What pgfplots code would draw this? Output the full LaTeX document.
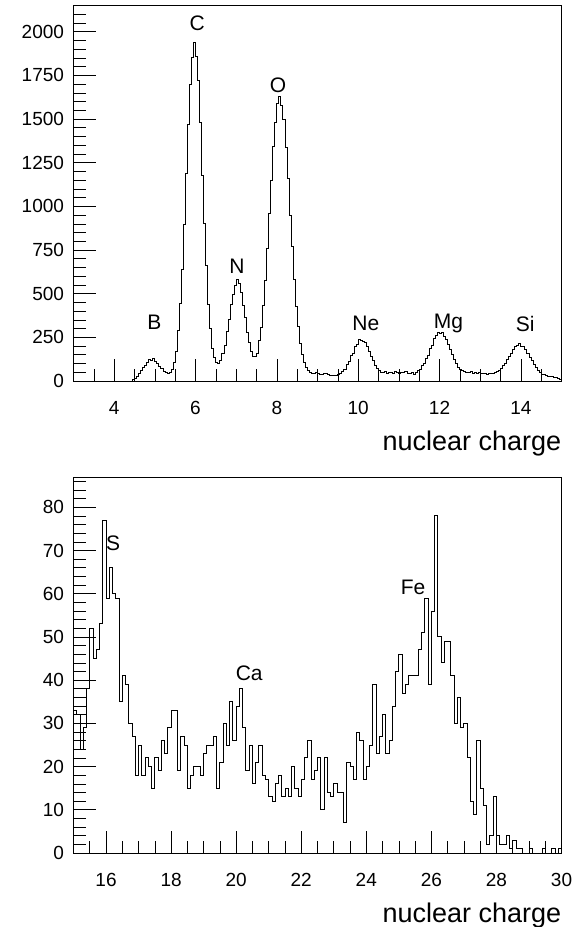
\documentclass[border=0pt]{standalone}
\usepackage{pgfplots}
\pgfplotsset{compat=1.18}
\usepackage{fontspec}
\setmainfont{Liberation Sans}

\pgfplotsset{rootstyle/.style={
  scale only axis,
  axis line style={line width=0.8pt},
  tick align=inside,
  xtick pos=left, ytick pos=left,
  major tick length=22pt, minor tick length=12pt,
  every tick/.style={black, line width=0.6pt},
  tick label style={font=\fontsize{19}{19}\selectfont},
  /pgf/number format/assume math mode=true,
  /pgf/number format/1000 sep={},
  scaled y ticks=false,
  xticklabel style={yshift=-17pt},
  yticklabel style={xshift=-6pt},
  xlabel={nuclear charge},
  xlabel style={font=\fontsize{27}{27}\selectfont, at={(rel axis cs:1,0)}, anchor=north east, inner sep=0pt, yshift=-50pt},
}}

\begin{document}
\begin{tikzpicture}[x=1pt,y=1pt]
\path[use as bounding box] (0,0) rectangle (574,927);
\begin{axis}[rootstyle,
  at={(73.5pt,546pt)}, anchor=south west,
  width=488pt, height=375.5pt,
  xmin=3, xmax=15, ymin=0, ymax=2150,
  xtick={4,6,...,14}, minor xtick={3,3.5,...,15},
  ytick={0,250,...,2000}, minor ytick={0,50,...,2150},
]
\addplot[const plot mark left, black, line width=0.9pt, mark=none] coordinates {
(3.00,0)
(4.45,6)(4.50,17)(4.55,28)(4.60,45)(4.65,58)(4.70,79)(4.75,90)(4.80,104)(4.85,122)(4.90,116)(4.95,128)
(5.00,112)(5.05,103)(5.10,86)(5.15,70)(5.20,57)(5.25,50)(5.30,42)(5.35,48)(5.40,66)(5.45,108)
(5.50,172)(5.55,290)(5.60,445)(5.65,640)(5.70,895)(5.75,1190)(5.80,1470)(5.85,1700)(5.90,1850)(5.95,1940)
(6.00,1860)(6.05,1720)(6.10,1480)(6.15,1175)(6.20,900)(6.25,660)(6.30,440)(6.35,300)(6.40,188)(6.45,135)
(6.50,104)(6.55,100)(6.60,115)(6.65,160)(6.70,205)(6.75,285)(6.80,350)(6.85,440)(6.90,498)(6.95,545)
(7.00,580)(7.05,560)(7.10,505)(7.15,430)(7.20,365)(7.25,280)(7.30,220)(7.35,172)(7.40,142)(7.45,138)
(7.50,160)(7.55,230)(7.60,305)(7.65,435)(7.70,575)(7.75,760)(7.80,960)(7.85,1150)(7.90,1345)(7.95,1480)
(8.00,1590)(8.05,1630)(8.10,1580)(8.15,1495)(8.20,1340)(8.25,1160)(8.30,950)(8.35,770)(8.40,580)(8.45,425)
(8.50,312)(8.55,215)(8.60,150)(8.65,108)(8.70,78)(8.75,60)(8.80,48)(8.85,44)(8.90,45)(8.95,48)
(9.00,42)(9.05,38)(9.10,40)(9.15,44)(9.20,41)(9.25,36)(9.30,34)(9.35,31)(9.40,33)(9.45,29)
(9.50,36)(9.55,42)(9.60,52)(9.65,66)(9.70,92)(9.75,110)(9.80,145)(9.85,160)(9.90,195)(9.95,210)
(10.00,238)(10.05,232)(10.10,225)(10.15,218)(10.20,195)(10.25,172)(10.30,140)(10.35,118)(10.40,90)(10.45,72)
(10.50,58)(10.55,50)(10.60,48)(10.65,52)(10.70,45)(10.75,48)(10.80,50)(10.85,46)(10.90,52)(10.95,49)
(11.00,45)(11.05,50)(11.10,47)(11.15,52)(11.20,46)(11.25,44)(11.30,48)(11.35,40)(11.40,50)(11.45,58)
(11.50,68)(11.55,88)(11.60,100)(11.65,130)(11.70,148)(11.75,185)(11.80,205)(11.85,242)(11.90,258)(11.95,278)
(12.00,272)(12.05,276)(12.10,255)(12.15,240)(12.20,212)(12.25,180)(12.30,150)(12.35,122)(12.40,100)(12.45,80)
(12.50,68)(12.55,60)(12.60,56)(12.65,50)(12.70,48)(12.75,52)(12.80,46)(12.85,49)(12.90,44)(12.95,47)
(13.00,42)(13.05,45)(13.10,43)(13.15,40)(13.20,44)(13.25,46)(13.30,45)(13.35,50)(13.40,56)(13.45,62)
(13.50,72)(13.55,88)(13.60,100)(13.65,125)(13.70,140)(13.75,160)(13.80,180)(13.85,195)(13.90,205)(13.95,215)
(14.00,200)(14.05,195)(14.10,178)(14.15,160)(14.20,135)(14.25,115)(14.30,95)(14.35,78)(14.40,62)(14.45,50)
(14.50,40)(14.55,36)(14.60,32)(14.65,28)(14.70,26)(14.75,24)(14.80,22)(14.85,20)(14.90,16)(14.95,10)
(15.00,10)
};
\node[font=\fontsize{21}{21}\selectfont] at (axis cs:4.99,335) {B};
\node[font=\fontsize{21}{21}\selectfont] at (axis cs:6.04,2047) {C};
\node[font=\fontsize{21}{21}\selectfont] at (axis cs:7.02,654) {N};
\node[font=\fontsize{21}{21}\selectfont] at (axis cs:8.03,1691) {O};
\node[font=\fontsize{21}{21}\selectfont] at (axis cs:10.19,329) {Ne};
\node[font=\fontsize{21}{21}\selectfont] at (axis cs:12.22,329) {Mg};
\node[font=\fontsize{21}{21}\selectfont] at (axis cs:14.11,329) {Si};
\end{axis}

\begin{axis}[rootstyle,
  at={(73.5pt,74pt)}, anchor=south west,
  width=488pt, height=376pt,
  xmin=15, xmax=30, ymin=0, ymax=87,
  xtick={16,18,...,30}, minor xtick={15,15.5,...,30},
  ytick={0,10,...,80}, minor ytick={0,2,...,86},
]
\addplot[const plot mark left, black, line width=0.9pt, mark=none] coordinates {
(15.0,33)(15.1,32)(15.2,24)(15.3,29)(15.4,38)(15.5,52)(15.6,45)(15.7,47)(15.8,53)(15.9,77)
(16.0,59)(16.1,66)(16.2,60)(16.3,59)(16.4,35)(16.5,41)(16.6,39)(16.7,30)(16.8,27)(16.9,18)
(17.0,25)(17.1,18)(17.2,22)(17.3,20)(17.4,15)(17.5,22)(17.6,19)(17.7,26)(17.8,23)(17.9,29)
(18.0,33)(18.1,33)(18.2,19)(18.3,27)(18.4,25)(18.5,15)(18.6,18)(18.7,20)(18.8,20)(18.9,18)
(19.0,23)(19.1,25)(19.2,25)(19.3,27)(19.4,15)(19.5,21)(19.6,30)(19.7,25)(19.8,35)(19.9,26)
(20.0,34)(20.1,38)(20.2,29)(20.3,19)(20.4,25)(20.5,16)(20.6,21)(20.7,25)(20.8,18)(20.9,17)
(21.0,13)(21.1,12)(21.2,16)(21.3,18)(21.4,13)(21.5,15)(21.6,13)(21.7,20)(21.8,15)(21.9,13)
(22.0,17)(22.1,22)(22.2,26)(22.3,17)(22.4,19)(22.5,22)(22.6,10)(22.7,22)(22.8,14)(22.9,13)
(23.0,16)(23.1,14)(23.2,14)(23.3,7)(23.4,21)(23.5,20)(23.6,17)(23.7,28)(23.8,26)(23.9,17)
(24.0,20)(24.1,25)(24.2,39)(24.3,23)(24.4,27)(24.5,32)(24.6,23)(24.7,26)(24.8,34)(24.9,42)
(25.0,46)(25.1,37)(25.2,39)(25.3,41)(25.4,41)(25.5,41)(25.6,47)(25.7,51)(25.8,59)(25.9,39)
(26.0,56)(26.1,78)(26.2,50)(26.3,44)(26.4,49)(26.5,49)(26.6,41)(26.7,30)(26.8,36)(26.9,29)
(27.0,30)(27.1,22)(27.2,12)(27.3,9)(27.4,26)(27.5,15)(27.6,11)(27.7,2)(27.8,4)(27.9,13)
(28.0,4)(28.1,2)(28.2,2)(28.3,4)(28.4,1)(28.5,3)(28.6,1)(28.7,1)(28.8,0)(28.9,0)
(29.0,1)(29.1,0)(29.2,0)(29.3,0)(29.4,1)(29.5,0)(29.6,0)(29.7,1)(29.8,0)(29.9,1)
(30.0,1)
};
\node[font=\fontsize{21}{21}\selectfont] at (axis cs:16.22,71.6) {S};
\node[font=\fontsize{21}{21}\selectfont] at (axis cs:20.40,41.5) {Ca};
\node[font=\fontsize{21}{21}\selectfont] at (axis cs:25.44,61.5) {Fe};
\end{axis}
\end{tikzpicture}
\end{document}
